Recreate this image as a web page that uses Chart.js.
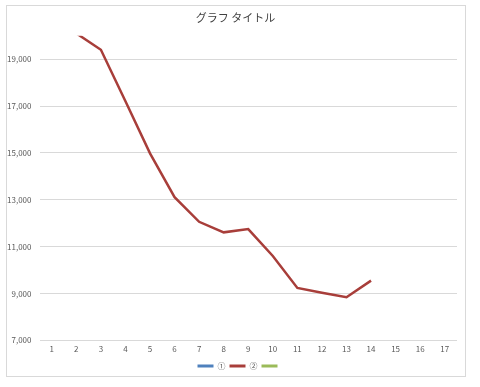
<!DOCTYPE html>
<html>
<head>
<meta charset="utf-8">
<script src="https://cdn.jsdelivr.net/npm/chart.js@4"></script>
<style>
  html, body { margin: 0; padding: 0; background: #fff; }
  #wrap { position: relative; width: 480px; height: 387px; }
</style>
</head>
<body>
<div id="wrap"><canvas id="chart" width="480" height="387"></canvas></div>
<script>
// --------------------
// Data
// --------------------
const categories = ["1","2","3","4","5","6","7","8","9","10","11","12","13","14","15","16","17"];
const series1 = [null,null,null,null,null,null,null,null,null,null,null,null,null,null,null,null,null];
const series2 = [null,20100,19400,17200,14980,13110,12060,11610,11750,10600,9240,9030,8840,9550,null,null,null];
const series3 = [null,null,null,null,null,null,null,null,null,null,null,null,null,null,null,null,null];
const seriesNames = ["①", "②", ""];
const yMin = 7000, yMax = 20000, yStep = 2000;

// --------------------
// Outer border like the Excel chart frame
// --------------------
const frame = {
  id: "frame",
  beforeDraw(chart) {
    const ctx = chart.ctx;
    ctx.save();
    ctx.fillStyle = "#fff";
    ctx.fillRect(0, 0, chart.width, chart.height);
    ctx.strokeStyle = "#d9d9d9";
    ctx.lineWidth = 1;
    ctx.strokeRect(6.5, 5.5, 459, 371);
    ctx.restore();
  },
  // nudge title and legend so they sit centred under the whole frame
  afterLayout(chart) {
    if (chart.legend) {
      chart.legend.left += 11;
      chart.legend.right += 11;
    }
    if (chart.titleBlock) {
      chart.titleBlock.left += 7;
      chart.titleBlock.right += 7;
    }
  }
};

const font = "'Noto Sans CJK JP', 'Noto Sans', sans-serif";

new Chart(document.getElementById("chart"), {
  type: "line",
  data: {
    labels: categories,
    datasets: [
      { label: seriesNames[0], data: series1, borderColor: "#4F81BD", backgroundColor: "#4F81BD", borderWidth: 2.5, pointRadius: 0 },
      { label: seriesNames[1], data: series2, borderColor: "#A83E3A", backgroundColor: "#A83E3A", borderWidth: 2.5, pointRadius: 0 },
      { label: seriesNames[2], data: series3, borderColor: "#9BBB59", backgroundColor: "#9BBB59", borderWidth: 2.5, pointRadius: 0 }
    ]
  },
  options: {
    responsive: false,
    animation: false,
    layout: { padding: { left: 0, right: 23, top: 0, bottom: 7 } },
    plugins: {
      title: {
        display: true,
        text: "グラフ タイトル",
        color: "#404040",
        font: { family: font, size: 11, weight: "normal" },
        padding: { top: 11, bottom: 11.5 }
      },
      legend: {
        position: "bottom",
        labels: {
          boxWidth: 16,
          boxHeight: 3,
          padding: 4,
          color: "#595959",
          font: { family: font, size: 8 },
          generateLabels: chart => Chart.defaults.plugins.legend.labels.generateLabels(chart)
            .map(l => ({ ...l, lineWidth: 0, fillStyle: l.strokeStyle }))
        }
      },
      tooltip: { enabled: false }
    },
    scales: {
      x: {
        offset: true,
        grid: { display: false, drawTicks: false },
        border: { display: false },
        ticks: { color: "#595959", font: { family: font, size: 8 }, padding: 4, maxRotation: 0 }
      },
      y: {
        min: yMin,
        max: yMax,
        afterFit: s => { s.width = 39.5; },
        afterBuildTicks: s => {
          const t = [];
          for (let v = yMin; v <= yMax; v += yStep) t.push({ value: v });
          s.ticks = t;
        },
        grid: { color: "#d9d9d9", lineWidth: 1, drawTicks: false },
        border: { display: false },
        ticks: {
          color: "#595959",
          font: { family: font, size: 8 },
          padding: 8,
          callback: v => v.toLocaleString("en-US")
        }
      }
    }
  },
  plugins: [frame]
});
</script>
</body>
</html>
